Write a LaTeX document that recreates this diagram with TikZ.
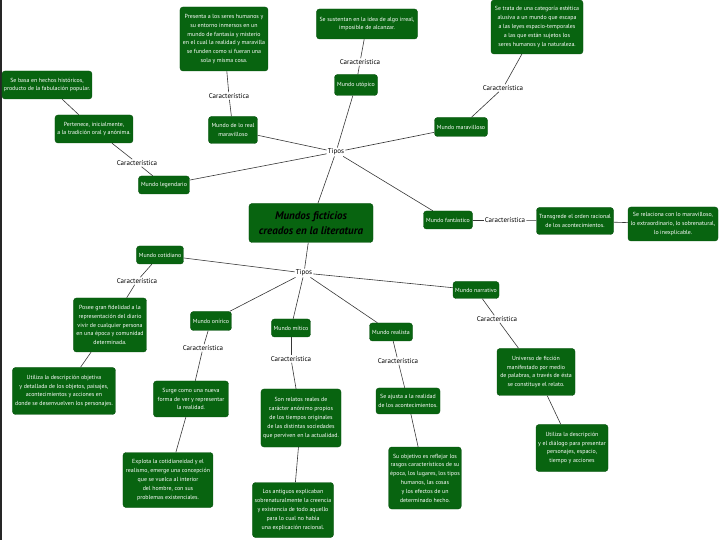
\documentclass[tikz,border=0pt]{standalone}
\usepackage{fontspec}
\setmainfont{PT Sans}
\usetikzlibrary{positioning}
\definecolor{mapgreen}{RGB}{8,100,16}
\definecolor{linegray}{RGB}{55,55,55}
\tikzset{
  box/.style={draw=mapgreen!80!black, fill=mapgreen, rounded corners=3pt, text=white,
    align=center, inner sep=1.5pt, font=\fontsize{5.9}{8.8}\selectfont},
  carac/.style={fill=white, inner sep=1pt, font=\fontsize{7}{7.5}\selectfont},
  conn/.style={draw=linegray, line width=0.6pt}
}

\begin{document}
\begin{tikzpicture}[on grid]
  \useasboundingbox (-311pt,-317pt) rectangle (409pt,223pt);
  \draw[line width=1.6pt, black!85] (-310pt,-317pt) -- (-310pt,223pt);
  \node[box,minimum width=124pt,minimum height=39pt,text=black,
        font=\fontsize{11}{15}\selectfont\bfseries\itshape] (T) at (0,0)
        {Mundos ficticios\\ creados en la literatura};
  \node[carac] (tipU) [above right=71pt and 25pt of T] {Tipos};
  \node[carac] (tipL) [below left=50pt and 7pt of T] {Tipos};
  % tipos de arriba
  \node[box,minimum width=51pt,minimum height=18pt] (leg) [below left=33pt and 172pt of tipU] {Mundo legendario};
  \node[carac] (carLeg) [above left=22pt and 27pt of leg] {Característica};
  \node[box,minimum width=78pt,minimum height=28pt] (pert) [above left=34pt and 43pt of carLeg]
        {Pertenece, inicialmente,\\ a la tradición oral y anónima.};
  \node[box,minimum width=90pt,minimum height=28pt] (basa) [above left=44pt and 47pt of pert]
        {Se basa en hechos históricos,\\ producto de la fabulación popular.};
  \node[box,minimum width=49pt,minimum height=27pt] (rmar) [above left=22pt and 103pt of tipU] {Mundo de lo real\\ maravilloso};
  \node[carac] (carRmar) [above left=34pt and 4pt of rmar] {Característica};
  \node[box,minimum width=88pt,minimum height=64pt] (pres) [above left=57pt and 5pt of carRmar]
        {Presenta a los seres humanos y\\ su entorno inmersos en un\\ mundo de fantasía y misterio\\ en el cual la realidad y maravilla\\ se funden como si fueran una\\ sola y misma cosa.};
  \node[box,minimum width=43pt,minimum height=21pt] (utop) [above right=67pt and 20pt of tipU] {Mundo utópico};
  \node[carac] (carUtop) [above right=23pt and 4pt of utop] {Característica};
  \node[box,minimum width=101pt,minimum height=30pt] (sust) [above right=38pt and 7pt of carUtop]
        {Se sustentan en la idea de algo irreal,\\ imposible de alcanzar.};
  \node[box,minimum width=53pt,minimum height=19pt] (mar) [above right=25pt and 125pt of tipU] {Mundo maravilloso};
  \node[carac] (carMar) [above right=39pt and 42pt of mar] {Característica};
  \node[box,minimum width=92pt,minimum height=54pt] (trata) [above right=61pt and 34pt of carMar]
        {Se trata de una categoría estética\\ alusiva a un mundo que escapa\\ a las leyes espacio-temporales\\ a las que están sujetos los\\ seres humanos y la naturaleza.};
  \node[box,minimum width=49pt,minimum height=18pt] (fant) [below right=68pt and 112pt of tipU] {Mundo fantástico};
  \node[carac] (carFant) [right=57pt of fant] {Característica};
  \node[box,minimum width=77pt,minimum height=27pt] (trans) [below right=1pt and 70pt of carFant]
        {Transgrede el orden racional\\ de los acontecimientos.};
  \node[box,minimum width=90pt,minimum height=34pt] (relac) [below right=3pt and 98pt of trans]
        {Se relaciona con lo maravilloso,\\ lo extraordinario, lo sobrenatural,\\ lo inexplicable.};
  % tipos de abajo
  \node[box,minimum width=47pt,minimum height=18pt] (cot) [above left=18pt and 144pt of tipL] {Mundo cotidiano};
  \node[carac] (carCot) [below left=26pt and 23pt of cot] {Característica};
  \node[box,minimum width=73pt,minimum height=54pt] (posee) [below left=44pt and 27pt of carCot]
        {Posee gran fidelidad a la\\ representación del diario\\ vivir de cualquier persona\\ en una época y comunidad\\ determinada.};
  \node[box,minimum width=103pt,minimum height=47pt] (utilObj) [below left=66pt and 46pt of posee]
        {Utiliza la descripción objetiva\\ y detallada de los objetos, paisajes,\\ acontecimientos y acciones en\\ donde se desenvuelven los personajes.};
  \node[box,minimum width=41pt,minimum height=19pt] (onir) [below left=48pt and 93pt of tipL] {Mundo onírico};
  \node[carac] (carOnir) [below left=27pt and 8pt of onir] {Característica};
  \node[box,minimum width=75pt,minimum height=36pt] (surge) [below left=51pt and 12pt of carOnir]
        {Surge como una nueva\\ forma de ver y representar\\ la realidad.};
  \node[box,minimum width=90pt,minimum height=55pt] (explota) [below left=81pt and 23pt of surge]
        {Explota la cotidianeidad y el\\ realismo, emerge una concepción\\ que se vuelca al interior\\ del hombre, con sus\\ problemas existenciales.};
  \node[box,minimum width=39pt,minimum height=18pt] (mit) [below left=55pt and 13pt of tipL] {Mundo mítico};
  \node[carac] (carMit) [below=31pt of mit] {Característica};
  \node[box,minimum width=80pt,minimum height=58pt] (relatos) [below right=59pt and 10pt of carMit]
        {Son relatos reales de\\ carácter anónimo propios\\ de los tiempos originales\\ de las distintas sociedades\\ que perviven en la actualidad.};
  \node[box,minimum width=81pt,minimum height=55pt] (antig) [below left=92pt and 8pt of relatos]
        {Los antiguos explicaban\\ sobrenaturalmente la creencia\\ y existencia de todo aquello\\ para lo cual no había\\ una explicación racional.};
  \node[box,minimum width=43pt,minimum height=18pt] (real) [below right=59pt and 87pt of tipL] {Mundo realista};
  \node[carac] (carReal) [below right=29pt and 7pt of real] {Característica};
  \node[box,minimum width=64pt,minimum height=26pt] (ajusta) [below right=40pt and 10pt of carReal]
        {Se ajusta a la realidad\\ de los acontecimientos.};
  \node[box,minimum width=69pt,minimum height=62pt] (objet) [below right=77pt and 17pt of ajusta]
        {Su objetivo es reflejar los\\ rasgos característicos de su\\ época, los lugares, los tipos\\ humanos, las cosas\\ y los efectos de un\\ determinado hecho.};
  \node[box,minimum width=46pt,minimum height=17pt] (narr) [below right=17pt and 172pt of tipL] {Mundo narrativo};
  \node[carac] (carNarr) [below right=29pt and 21pt of narr] {Característica};
  \node[box,minimum width=78pt,minimum height=47pt] (univ) [below right=53pt and 39pt of carNarr]
        {Universo de ficción\\ manifestado por medio\\ de palabras, a través de ésta\\ se constituye el relato.};
  \node[box,minimum width=72pt,minimum height=47pt] (utilDia) [below right=76pt and 36pt of univ]
        {Utiliza la descripción\\ y el diálogo para presentar\\ personajes, espacio,\\ tiempo y acciones};
  \path[conn]
  (T) edge (tipU)
      edge (tipL)
  (tipU) edge (leg) edge (rmar) edge (utop) edge (mar) edge (fant)
  (leg) edge (carLeg)
  (carLeg) edge (pert)
  (pert) edge (basa)
  (rmar) edge (carRmar)
  (carRmar) edge (pres)
  (utop) edge (carUtop)
  (carUtop) edge (sust)
  (mar) edge (carMar)
  (carMar) edge (trata)
  (fant) edge (carFant)
  (carFant) edge (trans)
  (trans) edge (relac)
  (tipL) edge (cot) edge (onir) edge (mit) edge (real) edge (narr)
  (cot) edge (carCot)
  (carCot) edge (posee)
  (posee) edge (utilObj)
  (onir) edge (carOnir)
  (carOnir) edge (surge)
  (surge) edge (explota)
  (mit) edge (carMit)
  (carMit) edge (relatos)
  (relatos) edge (antig)
  (real) edge (carReal)
  (carReal) edge (ajusta)
  (ajusta) edge (objet)
  (narr) edge (carNarr)
  (carNarr) edge (univ)
  (univ) edge (utilDia);
\end{tikzpicture}
\end{document}
